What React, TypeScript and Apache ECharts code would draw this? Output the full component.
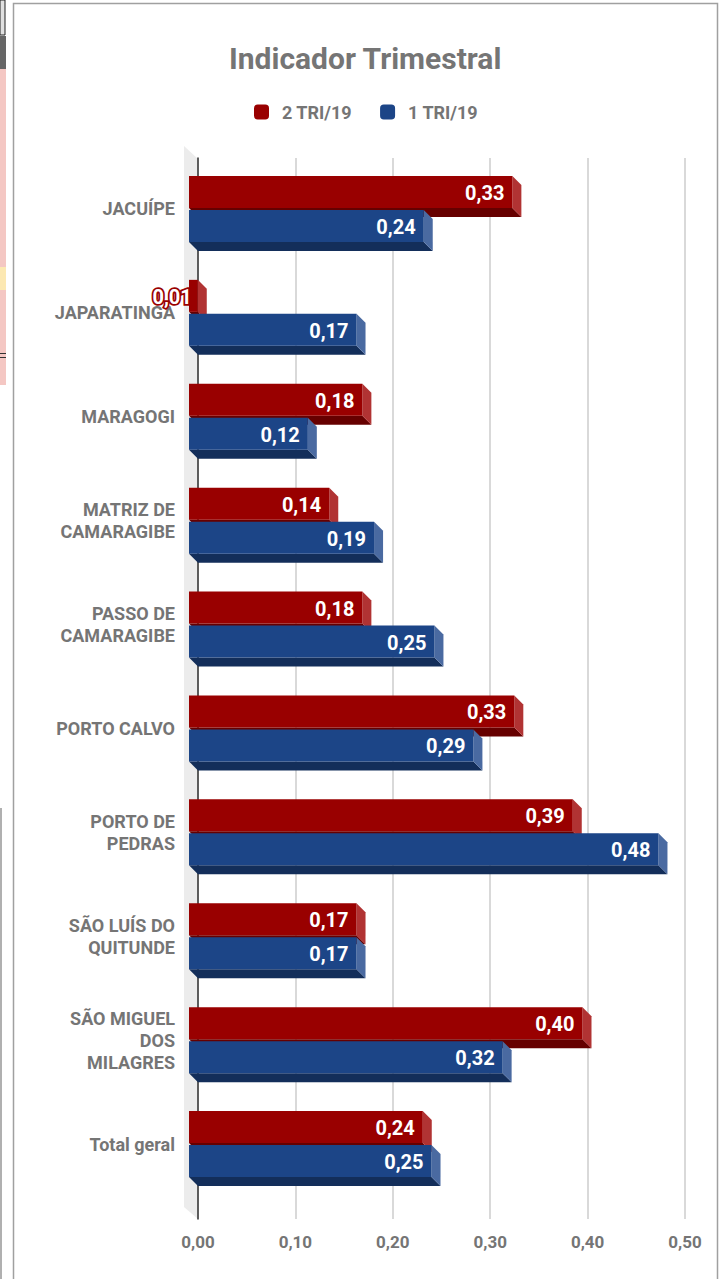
import React, { useEffect, useRef } from "react";
import * as echarts from "echarts";

const categories = [
  "JACUÍPE",
  "JAPARATINGA",
  "MARAGOGI",
  "MATRIZ DE\nCAMARAGIBE",
  "PASSO DE\nCAMARAGIBE",
  "PORTO CALVO",
  "PORTO DE\nPEDRAS",
  "SÃO LUÍS DO\nQUITUNDE",
  "SÃO MIGUEL\nDOS\nMILAGRES",
  "Total geral",
];
const tri2Values = [0.332, 0.009, 0.178, 0.144, 0.178, 0.334, 0.394, 0.172, 0.404, 0.24];
const tri1Values = [0.241, 0.172, 0.122, 0.19, 0.252, 0.292, 0.482, 0.172, 0.322, 0.249];
const seriesNames = ["2 TRI/19", "1 TRI/19"];

const palette = [
  { front: "#990000", side: "#b13333", bottom: "#660000" },
  { front: "#1c4587", side: "#4a6aa1", bottom: "#132e5a" },
];

const fmt = (v: number) => v.toFixed(2).replace(".", ",");
const D = 9;

function makeRender(s: number) {
  return (params: any, api: any) => {
    const v = api.value(0);
    const c = api.value(1);
    const end = api.coord([v, c]);
    const start = api.coord([0, c]);
    const fl = start[0] - D;
    const fr = end[0] - D;
    const top = end[1] - 33 + s * 34;
    const h = 32;
    const col = palette[s];
    const w = fr - fl;
    const small = w < 50;
    return {
      type: "group",
      children: [
        {
          type: "polygon",
          shape: { points: [[fl, top + h], [fr, top + h], [fr + D, top + h + D], [fl + D, top + h + D]] },
          style: { fill: col.bottom },
        },
        {
          type: "polygon",
          shape: { points: [[fr, top], [fr + D, top + D], [fr + D, top + h + D], [fr, top + h]] },
          style: { fill: col.side },
        },
        {
          type: "rect",
          shape: { x: fl, y: top, width: w, height: h },
          style: { fill: col.front },
        },
        {
          type: "text",
          x: small ? fr - 6 : fr - 8,
          y: top + h / 2 + 1,
          style: {
            text: fmt(v),
            fill: "#ffffff",
            font: "bold 20px Roboto",
            align: "right",
            verticalAlign: "middle",
            stroke: small ? col.front : undefined,
            lineWidth: small ? 3.5 : 0,
          },
          z2: 10,
        },
      ],
    };
  };
}

export default function App() {
  const ref = useRef<HTMLDivElement>(null);
  useEffect(() => {
    if (!ref.current) return;
    const chart = echarts.init(ref.current, null, { renderer: "svg" });
    const gray = "#757575";
    chart.setOption({
      animation: false,
      backgroundColor: "#ffffff",
      title: {
        text: "Indicador Trimestral",
        left: 224,
        top: 38,
        textStyle: { fontFamily: "Roboto", fontWeight: "bold", fontSize: 30, color: gray },
      },
      legend: {
        top: 98,
        left: 249,
        itemWidth: 15,
        itemHeight: 15,
        itemGap: 28,
        icon: "roundRect",
        data: seriesNames,
        textStyle: {
          fontFamily: "Roboto",
          fontWeight: "bold",
          fontSize: 18,
          color: gray,
          padding: [0, 0, 0, 8],
        },
      },
      grid: [
        { left: 198, right: 40, top: 158, bottom: 60 },
        { left: 198, right: 40, top: 157, height: 1039 },
      ],
      xAxis: [
        {
          gridIndex: 0,
          type: "value",
          min: 0,
          max: 0.5,
          interval: 0.1,
          axisLine: { show: false },
          axisTick: { show: false },
          splitLine: { show: true, lineStyle: { color: "#cccccc", width: 1.5 } },
          axisLabel: {
            formatter: (v: number) => fmt(v),
            margin: 14,
            fontFamily: "Roboto",
            fontWeight: "bold",
            fontSize: 17,
            color: gray,
          },
        },
        {
          gridIndex: 1,
          type: "value",
          min: 0,
          max: 0.5,
          interval: 0.1,
          show: false,
        },
      ],
      yAxis: [
        {
          gridIndex: 0,
          type: "value",
          axisLine: { show: true, lineStyle: { color: "#333333", width: 1.5 } },
          axisTick: { show: false },
          axisLabel: { show: false },
          splitLine: { show: false },
        },
        {
          gridIndex: 1,
          type: "category",
          inverse: true,
          data: categories,
          axisLine: { show: false },
          axisTick: { show: false },
          axisLabel: {
            margin: 23,
            fontFamily: "Roboto",
            fontWeight: "bold",
            fontSize: 18,
            lineHeight: 22,
            color: gray,
            align: "right",
          },
        },
      ],
      graphic: [
        {
          type: "polygon",
          z: -1,
          shape: { points: [[184, 146], [198, 159], [198, 1219], [184, 1207]] },
          style: { fill: "#ececec" },
        },
        { type: "rect", shape: { x: 13.5, y: 3.5, width: 704, height: 1300 }, style: { fill: "none", stroke: "#a0a0a0", lineWidth: 1.5 } },
        { type: "rect", shape: { x: 0, y: 69, width: 6, height: 316 }, style: { fill: "#f4c7c3" } },
        { type: "rect", shape: { x: 0, y: 267, width: 6, height: 23 }, style: { fill: "#fce8b2" } },
        { type: "rect", shape: { x: 0, y: 36, width: 6, height: 33 }, style: { fill: "#666666" } },
        { type: "rect", shape: { x: 0, y: 0, width: 5, height: 35 }, style: { fill: "#e0e0e0", stroke: "#222222", lineWidth: 1 } },
        { type: "rect", shape: { x: 0, y: 353, width: 6, height: 1 }, style: { fill: "#333333" } },
        { type: "rect", shape: { x: 0, y: 357, width: 6, height: 1 }, style: { fill: "#333333" } },
        { type: "rect", shape: { x: 0, y: 808, width: 2, height: 471 }, style: { fill: "#b0b0b0" } },
      ],
      series: [
        {
          name: seriesNames[0],
          type: "custom",
          xAxisIndex: 1,
          yAxisIndex: 1,
          itemStyle: { color: palette[0].front },
          renderItem: makeRender(0),
          encode: { x: 0, y: 1 },
          data: tri2Values.map((v, i) => [v, i]),
          z: 3,
        },
        {
          name: seriesNames[1],
          type: "custom",
          xAxisIndex: 1,
          yAxisIndex: 1,
          itemStyle: { color: palette[1].front },
          renderItem: makeRender(1),
          encode: { x: 0, y: 1 },
          data: tri1Values.map((v, i) => [v, i]),
          z: 4,
        },
      ],
    });
    return () => chart.dispose();
  }, []);
  return (
    <div
      ref={ref}
      style={{ position: "fixed", left: 0, top: 0, width: 725, height: 1279 }}
    />
  );
}
